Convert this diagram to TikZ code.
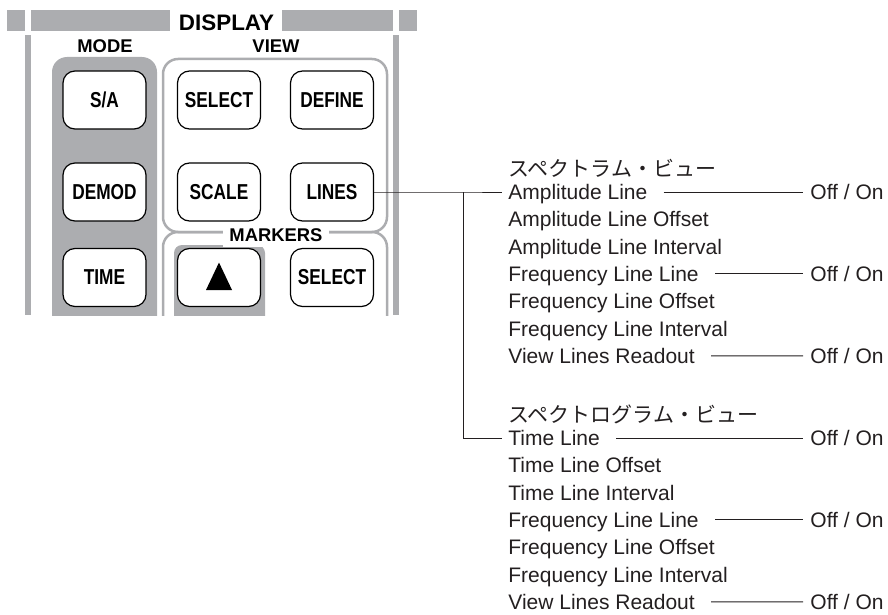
\documentclass[tikz,border=0pt]{standalone}
\usepackage{fontspec}
\setmainfont{Liberation Sans}
\newfontfamily\jpfont{Noto Sans CJK JP}
\newfontfamily\keyfont[FakeStretch=0.8]{Liberation Sans}
\usepackage{tikz}
\usetikzlibrary{positioning,calc}
\definecolor{panelgray}{RGB}{172,173,176}
\definecolor{ink}{RGB}{35,31,32}

\begin{document}
\begin{tikzpicture}[
  x=0.5pt, y=-0.5pt,
  key/.style={rectangle, rounded corners=6pt, draw=black, line width=0.6pt, fill=white,
    minimum width=41.5pt, minimum height=29pt, inner sep=0pt,
    font=\keyfont\bfseries\fontsize{10.8}{12}\selectfont},
  grp/.style={anchor=base, inner sep=0pt, font=\bfseries\fontsize{9.2}{10}\selectfont},
  item/.style={anchor=west, inner sep=0pt, text height=7.5pt, text depth=0pt,
    text=ink, font=\fontsize{10.5}{12}\selectfont},
  head/.style={item, font=\jpfont\fontsize{10.5}{12}\selectfont},
  wire/.style={draw=ink, line width=0.5pt},
  toggle/.style={wire, shorten <=8pt, shorten >=3.5pt},
  frame/.style={draw=panelgray, line width=1.25pt, rounded corners=7.5pt},
]
\useasboundingbox (0,0) rectangle (888,615);

% DISPLAY bar and side rails
\fill[panelgray] (7,10) rectangle (25,31);
\fill[panelgray] (31,10) rectangle (170,31);
\fill[panelgray] (282,10) rectangle (393,31);
\fill[panelgray] (399,10) rectangle (417,31);
\fill[panelgray] (25,35) rectangle (31,315);
\fill[panelgray] (393,35) rectangle (399,315);
\node[anchor=base, inner sep=0pt, font=\bfseries\fontsize{11.2}{12}\selectfont] (display) at (226.5,31) {DISPLAY};

% panels (cut off at the bottom)
\begin{scope}
  \clip (0,0) rectangle (420,315);
  \fill[panelgray, rounded corners=7.5pt] (52,57) rectangle (157,340);
  \fill[panelgray, rounded corners=4pt] (174,245) rectangle (265,340);
  \draw[frame] (163,232) rectangle (387,340);
\end{scope}
\draw[frame] (163,59) rectangle (387,232);

\node[grp] (mode) at (105,53) {MODE};
\node[grp] (view) at (276,53) {VIEW};
\node[grp, fill=white, inner sep=3pt] (markers) at (276,241) {MARKERS};

% keys
\node[key] (sa) at (104.5,100) {S/A};
\node[key] (vsel) at (219,100) {SELECT};
\node[key] (define) at (332,100) {DEFINE};
\node[key] (demod) at (104.5,192) {DEMOD};
\node[key] (scale) at (219,192) {SCALE};
\node[key] (lines) at (332,192) {LINES};
\node[key] (time) at (104.5,277.5) {TIME};
\node[key] (up) at (219,277.5) {};
\node[key] (msel) at (332,277.5) {SELECT};
\fill ($(up.center)+(0,-15)$) -- ($(up.center)+(13,12.5)$) -- ($(up.center)+(-13,12.5)$) -- cycle;

% spectrum view menu
\node[head] (spec) at (508,169) {スペクトラム・ビュー};
\foreach \t [count=\i from 0] in {Amplitude Line, Amplitude Line Offset, Amplitude Line Interval,
    Frequency Line Line, Frequency Line Offset, Frequency Line Interval, View Lines Readout} {
  \node[item] (s\i) at (508,192+\i*27.3) {\t};
}
\node[item] (so0) at (810,192) {Off / On};
\node[item] (so3) at (810,273.9) {Off / On};
\node[item] (so6) at (810,355.8) {Off / On};

% spectrogram view menu
\node[head] (sgram) at (508,415) {スペクトログラム・ビュー};
\foreach \t [count=\i from 0] in {Time Line, Time Line Offset, Time Line Interval,
    Frequency Line Line, Frequency Line Offset, Frequency Line Interval, View Lines Readout} {
  \node[item] (t\i) at (508,438+\i*27.3) {\t};
}
\node[item] (to0) at (810,438) {Off / On};
\node[item] (to3) at (810,519.9) {Off / On};
\node[item] (to6) at (810,601.8) {Off / On};

% connectors
\coordinate (split) at (463,192);
\draw[wire] (lines.east) -- (split) -- ([xshift=-3pt]s0.west);
\draw[wire] (split) |- ([xshift=-3pt]t0.west);
\foreach \a/\b in {s0/so0, s3/so3, s6/so6, t0/to0, t3/to3, t6/to6} {
  \draw[toggle] (\a.east) -- (\b.west);
}
\end{tikzpicture}
\end{document}
